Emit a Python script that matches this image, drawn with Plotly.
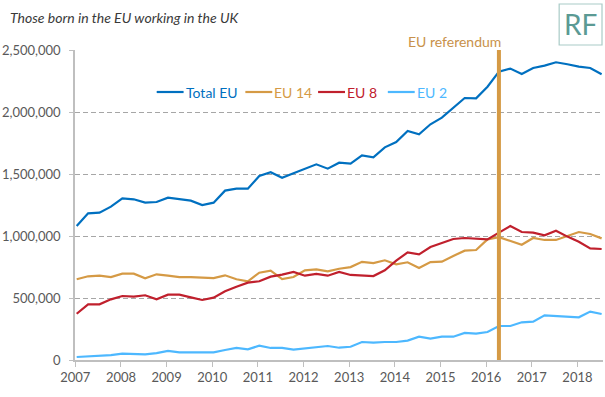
import plotly.graph_objects as go

# Quarterly data, 2007 Q1 to 2018 Q3 (thousands of workers)
years = list(range(2007, 2019))
quarters_per_year = 4
n_points = 47

total_eu = [1080, 1183, 1188, 1237,
            1304, 1296, 1269, 1274,
            1309, 1296, 1285, 1250,
            1269, 1366, 1382, 1382,
            1484, 1514, 1470, 1506,
            1543, 1578, 1543, 1591,
            1583, 1650, 1635, 1715,
            1758, 1847, 1820, 1901,
            1954, 2035, 2113, 2110,
            2204, 2325, 2350, 2307,
            2355, 2374, 2401, 2385,
            2366, 2355, 2304]

eu14 = [651, 675, 680, 669,
        696, 696, 659, 691,
        680, 669, 669, 664,
        661, 683, 651, 635,
        704, 720, 653, 669,
        723, 731, 715, 736,
        749, 792, 782, 804,
        772, 788, 742, 790,
        793, 839, 882, 887,
        973, 990, 962, 930,
        984, 968, 968, 1000,
        1032, 1016, 981]

eu8 = [373, 449, 449, 489,
       516, 511, 522, 489,
       527, 527, 505, 484,
       503, 554, 591, 624,
       635, 672, 688, 710,
       680, 694, 680, 710,
       686, 683, 677, 723,
       801, 868, 852, 911,
       944, 976, 984, 979,
       973, 1027, 1081, 1032,
       1027, 1005, 1043, 995,
       954, 900, 895]

eu2 = [24, 30, 30, 40,
       51, 46, 46, 56,
       73, 62, 62, 65,
       62, 81, 97, 86,
       115, 97, 97, 83,
       94, 107, 113, 99,
       107, 145, 140, 145,
       145, 156, 188, 172,
       188, 188, 218, 212,
       226, 274, 274, 304,
       309, 360, 355, 355,
       344, 390, 371]

series_names = ["Total EU", "EU 14", "EU 8", "EU 2"]
series_values = [total_eu, eu14, eu8, eu2]
series_colors = ["#0070C0", "#D59A45", "#C0202D", "#4DB8FF"]

y_ticks = [0, 500000, 1000000, 1500000, 2000000, 2500000]
y_tick_labels = ["0", "500,000", "1,000,000", "1,500,000", "2,000,000", "2,500,000"]
x_tick_labels = [str(y) for y in years]

referendum_quarter = 2016.25
title_text = "Those born in the EU working in the UK"
ref_label = "EU referendum"

# quarterly positions (slightly offset into each quarter)
x_offset = 0.03
x_vals = [years[0] + i / quarters_per_year + x_offset for i in range(n_points)]

FONT = "Lato, 'Open Sans', sans-serif"
GREY = "#595959"

# plot-area geometry (pixels) used to place layout decorations
PL, PR, PT, PB = 73, 603, 50, 360


def px_x(p):
    return (p - PL) / (PR - PL)


def px_y(p):
    return (PB - p) / (PB - PT)


fig = go.Figure()
for name, vals, col in zip(series_names, series_values, series_colors):
    fig.add_trace(go.Scatter(
        x=x_vals, y=[v * 1000 for v in vals], mode="lines",
        name=name, line=dict(color=col, width=2.2), showlegend=False,
    ))

# Legend (line sample + coloured label), laid out in a row like the original
legend_starts = [155, 244, 317, 387]
legend_y = 92
for name, col, x0 in zip(series_names, series_colors, legend_starts):
    fig.add_shape(type="line", xref="paper", yref="paper",
                  x0=px_x(x0), x1=px_x(x0 + 27), y0=px_y(legend_y), y1=px_y(legend_y),
                  line=dict(color=col, width=2.2))
    fig.add_annotation(x=px_x(x0 + 28), y=px_y(legend_y), xref="paper", yref="paper",
                       text=name, showarrow=False, xanchor="left", yanchor="middle",
                       borderpad=0, font=dict(family=FONT, size=14, color=col))

fig.add_shape(type="line", xref="x", yref="paper",
              x0=referendum_quarter + x_offset, x1=referendum_quarter + x_offset,
              y0=0, y1=1, line=dict(color="#D59A45", width=4), layer="above")

fig.add_annotation(x=referendum_quarter + x_offset, xref="x", y=1, yref="paper",
                   text=ref_label, showarrow=False, xanchor="right", yanchor="bottom",
                   xshift=4, yshift=-2,
                   font=dict(family=FONT, size=14, color="#C8914A"))

# RF logo box
fig.add_shape(type="rect", xref="paper", yref="paper",
              x0=px_x(559), x1=px_x(602), y0=px_y(45), y1=px_y(4),
              line=dict(color="#A9CBC7", width=1.2), fillcolor="white")
fig.add_annotation(x=px_x(580.5), y=px_y(24.5), xref="paper", yref="paper",
                   text="RF", showarrow=False, xanchor="center", yanchor="middle",
                   font=dict(family=FONT, size=28, color="#5B9A94"))

fig.update_layout(
    width=605, height=397,
    margin=dict(l=PL, r=605 - PR, t=PT, b=397 - PB),
    paper_bgcolor="white", plot_bgcolor="white",
    font=dict(family=FONT, size=13, color=GREY),
    title=dict(text=title_text, x=10 / 605, xref="container", xanchor="left",
               y=1 - 18 / 397, yref="container", yanchor="middle",
               font=dict(family=FONT, size=14, color="#3a3a3a", style="italic")),
    showlegend=False,
    xaxis=dict(range=[2006.993, 2018.56], tickvals=years, ticktext=x_tick_labels,
               showgrid=False, showline=True, linecolor="#BFBFBF", linewidth=1.5,
               ticks="outside", ticklen=5, tickcolor="#BFBFBF", tickwidth=1,
               tickfont=dict(family=FONT, size=13, color=GREY), zeroline=False),
    yaxis=dict(range=[0, 2500000], tickvals=y_ticks, ticktext=y_tick_labels,
               showgrid=True, gridcolor="#A6A6A6", griddash="5px,3px", gridwidth=1,
               showline=True, linecolor="#BFBFBF", linewidth=1.5,
               ticks="outside", ticklen=4, tickcolor="#BFBFBF",
               ticklabelstandoff=6,
               tickfont=dict(family=FONT, size=13, color=GREY), zeroline=False),
)

fig.write_html("out.html", config={"displayModeBar": False},
               post_script="document.body.style.margin='0px';document.body.style.overflow='hidden';")
